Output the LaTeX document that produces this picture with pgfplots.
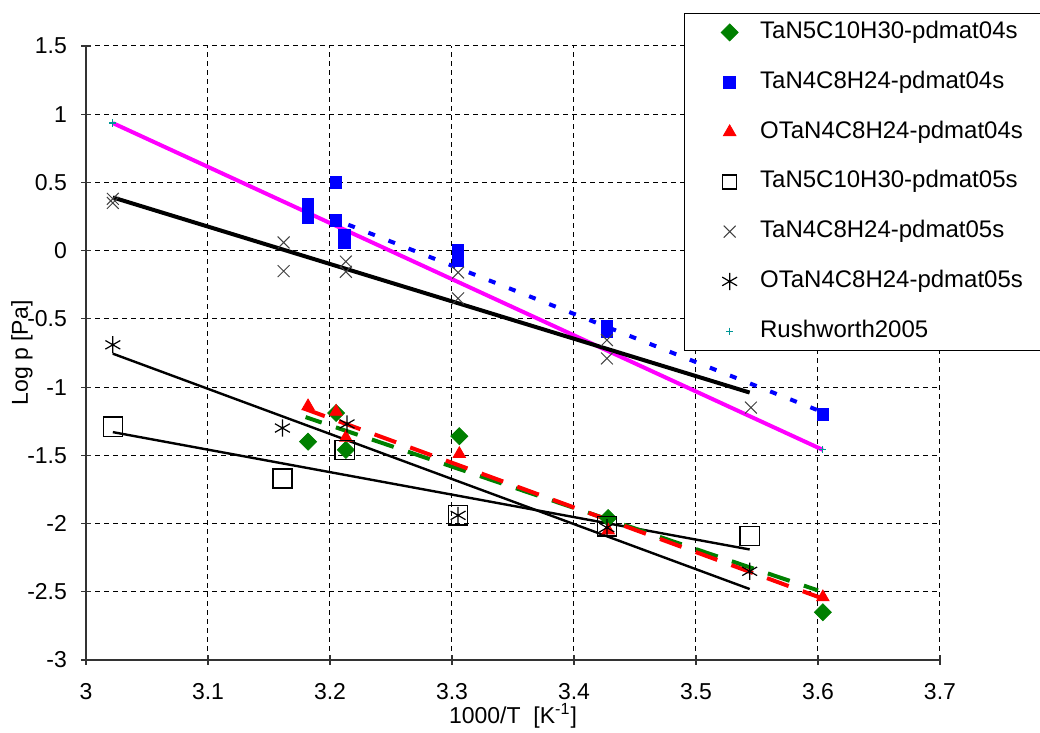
\documentclass[border=0pt]{standalone}
\usepackage{pgfplots}
\pgfplotsset{compat=1.18}
\usepackage{fontspec}
\setmainfont{Liberation Sans}
\definecolor{exgreen}{RGB}{0,128,0}
\definecolor{exblue}{RGB}{0,0,255}
\definecolor{exred}{RGB}{255,0,0}
\definecolor{exmag}{RGB}{255,0,255}
\definecolor{exteal}{RGB}{0,150,150}
\begin{document}
\fontsize{11.5}{13.8}\selectfont
\begin{tikzpicture}
\path[use as bounding box] (0,0) rectangle (520pt,366.5pt);
\begin{axis}[
  at={(43pt,36.5pt)}, anchor=south west,
  scale only axis, width=427pt, height=307pt,
  xmin=3, xmax=3.7, ymin=-3, ymax=1.5,
  xtick={3,3.1,3.2,3.3,3.4,3.5,3.6,3.7},
  xticklabels={3,3.1,3.2,3.3,3.4,3.5,3.6,3.7},
  ytick={-3,-2.5,-2,-1.5,-1,-0.5,0,0.5,1,1.5},
  yticklabels={-3,-2.5,-2,-1.5,-1,-0.5,0,0.5,1,1.5},
  axis lines=left, axis line style={-, black!80, line width=0.6pt},
  tick align=center, major tick length=5pt, tick style={black!80, line width=0.6pt},
  grid=major, grid style={black, dash pattern=on 2.5pt off 2pt, line width=0.5pt},
  ticklabel style={font=\fontsize{11.5}{13.8}\selectfont},
  xticklabel style={yshift=-5pt},
  yticklabel style={xshift=-3pt},
  xlabel={1000/T\ \ [K\textsuperscript{-1}]},
  ylabel={Log p [Pa]},
  xlabel style={at={(axis description cs:0.5,-0.091)}, anchor=center},
  ylabel style={at={(axis description cs:-0.075,0.5)}, anchor=center},
  label style={font=\fontsize{11.5}{13.8}\selectfont},
  legend cell align=left,
  legend style={at={(axis description cs:0.700,1.0537)}, anchor=north west,
    draw=black, fill=white, inner xsep=18.5pt, inner ysep=3.5pt, row sep=12.9pt,
    nodes={inner sep=0pt, text height=9pt, text depth=3pt, anchor=west, text width=135pt, align=left},
    font=\fontsize{12}{14}\selectfont,
    /tikz/every odd column/.style={column sep=11pt}},
]
% data series
\addplot[only marks, mark=square*, mark size=3pt, mark options={rotate=45, draw=exgreen, fill=exgreen}]
  coordinates {(3.182,-1.40) (3.205,-1.19) (3.213,-1.46) (3.306,-1.36) (3.428,-1.96) (3.604,-2.65)};
\addlegendentry{TaN5C10H30-pdmat04s}
\addplot[only marks, mark=square*, mark size=2.9pt, mark options={draw=exblue, fill=exblue}]
  coordinates {(3.182,0.34) (3.182,0.29) (3.182,0.245) (3.205,0.50) (3.205,0.22) (3.212,0.11) (3.212,0.06)
               (3.305,0.0) (3.305,-0.075) (3.427,-0.55) (3.427,-0.59) (3.604,-1.20)};
\addlegendentry{TaN4C8H24-pdmat04s}
\addplot[only marks, mark=triangle*, mark size=3.6pt, mark options={draw=exred, fill=exred}]
  coordinates {(3.182,-1.14) (3.205,-1.18) (3.213,-1.37) (3.306,-1.49) (3.428,-2.05) (3.604,-2.54)};
\addlegendentry{OTaN4C8H24-pdmat04s}
\addplot[only marks, mark=square, mark size=4.8pt, mark options={draw=black, line width=0.7pt},
  legend image code/.code={\draw[only marks, mark repeat=2, mark phase=2, mark=square, mark size=3.5pt, draw=black, line width=0.6pt] plot coordinates {(0cm,0cm) (0.3cm,0cm) (0.6cm,0cm)};}]
  coordinates {(3.022,-1.29) (3.161,-1.67) (3.212,-1.46) (3.305,-1.94) (3.427,-2.02) (3.544,-2.09)};
\addlegendentry{TaN5C10H30-pdmat05s}
\addplot[only marks, mark=x, mark size=4.2pt, mark options={draw=black!75, line width=0.5pt}]
  coordinates {(3.022,0.38) (3.022,0.35) (3.162,0.06) (3.162,-0.15) (3.213,-0.08) (3.213,-0.155)
               (3.305,-0.16) (3.305,-0.35) (3.427,-0.655) (3.427,-0.79) (3.545,-1.15)};
\addlegendentry{TaN4C8H24-pdmat05s}
\addplot[only marks, mark=asterisk, mark size=4.3pt, mark options={draw=black, line width=0.6pt}]
  coordinates {(3.022,-0.69) (3.161,-1.30) (3.214,-1.27) (3.305,-1.94) (3.427,-2.03) (3.544,-2.35)};
\addlegendentry{OTaN4C8H24-pdmat05s}
\addplot[only marks, mark=+, mark size=1.8pt, mark options={draw=exteal, line width=0.6pt}]
  coordinates {(3.022,0.935) (3.604,-1.46)};
\addlegendentry{Rushworth2005}
% trendlines
\addplot[forget plot, exmag, line width=2pt] coordinates {(3.022,0.935) (3.604,-1.46)};
\addplot[forget plot, black, line width=2pt] coordinates {(3.022,0.39) (3.544,-1.04)};
\addplot[forget plot, exblue, line width=2pt, dash pattern=on 3.5pt off 7.3pt] coordinates {(3.215,0.19) (3.60,-1.17)};
\addplot[forget plot, black, line width=1.2pt] coordinates {(3.022,-0.755) (3.544,-2.48)};
\addplot[forget plot, black, line width=1.2pt] coordinates {(3.022,-1.33) (3.544,-2.19)};
\addplot[forget plot, exgreen, line width=2pt, dash pattern=on 11.5pt off 7.5pt, dash phase=3pt] coordinates {(3.18,-1.22) (3.60,-2.49)};
\addplot[forget plot, exred, line width=2pt, dash pattern=on 11.5pt off 7.5pt] coordinates {(3.178,-1.155) (3.607,-2.56)};
\end{axis}
\end{tikzpicture}
\end{document}
